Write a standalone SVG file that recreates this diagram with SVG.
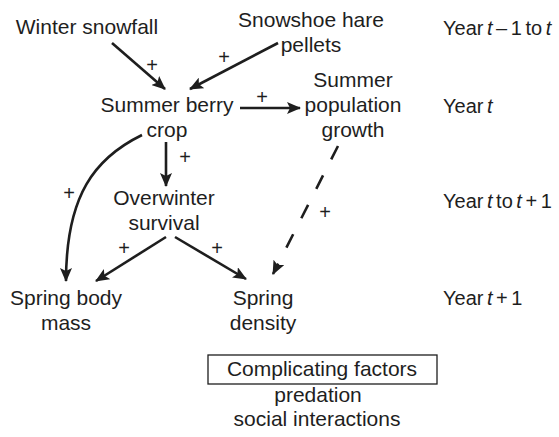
<svg xmlns="http://www.w3.org/2000/svg" width="559" height="437" viewBox="0 0 559 437">
<defs>
<style>
text{font-family:"Liberation Sans",Arial,Helvetica,sans-serif;fill:#1e1e1e}
.lbl{font-size:21px;text-anchor:middle}
.pl{font-size:20px;text-anchor:middle}
.yr{font-size:20px;word-spacing:-2px}
.it{font-style:italic}
.arr{fill:none;stroke:#1e1e1e;stroke-width:2.6}
.dash{stroke-dasharray:15 18}
</style>
<marker id="ah" viewBox="0 0 14 12" refX="13" refY="6" markerWidth="14" markerHeight="12" markerUnits="userSpaceOnUse" orient="auto">
<path d="M0,0 L14,6 L0,12 L3,6 Z" fill="#1e1e1e"/>
</marker>
</defs>
<rect width="559" height="437" fill="#fff"/>

<g id="connectors">
<path class="arr" d="M112,43 L165,89" marker-end="url(#ah)"/>
<path class="arr" d="M278,43 L190,89" marker-end="url(#ah)"/>
<path class="arr" d="M240,108 L300,108" marker-end="url(#ah)"/>
<path class="arr" d="M166,142 L166,186" marker-end="url(#ah)"/>
<path class="arr" d="M142,135 C95,158 66,195 66,281" marker-end="url(#ah)"/>
<path class="arr" d="M166,237 L96,281" marker-end="url(#ah)"/>
<path class="arr" d="M175,237 L246,279" marker-end="url(#ah)"/>
<path class="arr dash" d="M338,146 L273,274" marker-end="url(#ah)"/>
<text class="pl" x="152" y="72">+</text>
<text class="pl" x="224" y="64">+</text>
<text class="pl" x="262" y="104">+</text>
<text class="pl" x="185" y="164">+</text>
<text class="pl" x="69" y="200">+</text>
<text class="pl" x="124" y="255">+</text>
<text class="pl" x="217" y="255">+</text>
<text class="pl" x="325" y="219">+</text>
</g>

<g id="winter-snowfall"><text class="lbl" x="87" y="34">Winter snowfall</text></g>
<g id="hare-pellets"><text class="lbl" x="311" y="27">Snowshoe hare</text><text class="lbl" x="311" y="52">pellets</text></g>
<g id="berry-crop"><text class="lbl" x="167" y="112">Summer berry</text><text class="lbl" x="167" y="137">crop</text></g>
<g id="pop-growth"><text class="lbl" x="353" y="87">Summer</text><text class="lbl" x="353" y="112">population</text><text class="lbl" x="353" y="137">growth</text></g>
<g id="overwinter"><text class="lbl" x="164" y="205">Overwinter</text><text class="lbl" x="164" y="230">survival</text></g>
<g id="body-mass"><text class="lbl" x="66" y="305">Spring body</text><text class="lbl" x="66" y="330">mass</text></g>
<g id="density"><text class="lbl" x="263" y="305">Spring</text><text class="lbl" x="263" y="330">density</text></g>

<g id="complicating">
<rect x="208" y="355" width="229" height="29" fill="none" stroke="#1e1e1e" stroke-width="1.3"/>
<text class="lbl" x="322" y="376">Complicating factors</text>
<text class="lbl" x="318" y="402">predation</text>
<text class="lbl" x="317" y="426">social interactions</text>
</g>

<g id="years">
<text class="yr" x="443" y="35">Year <tspan class="it">t</tspan> – 1 to <tspan class="it">t</tspan></text>
<text class="yr" x="443" y="113">Year <tspan class="it">t</tspan></text>
<text class="yr" x="443" y="208">Year <tspan class="it">t</tspan> to <tspan class="it">t</tspan> + 1</text>
<text class="yr" x="443" y="305">Year <tspan class="it">t</tspan> + 1</text>
</g>
</svg>
